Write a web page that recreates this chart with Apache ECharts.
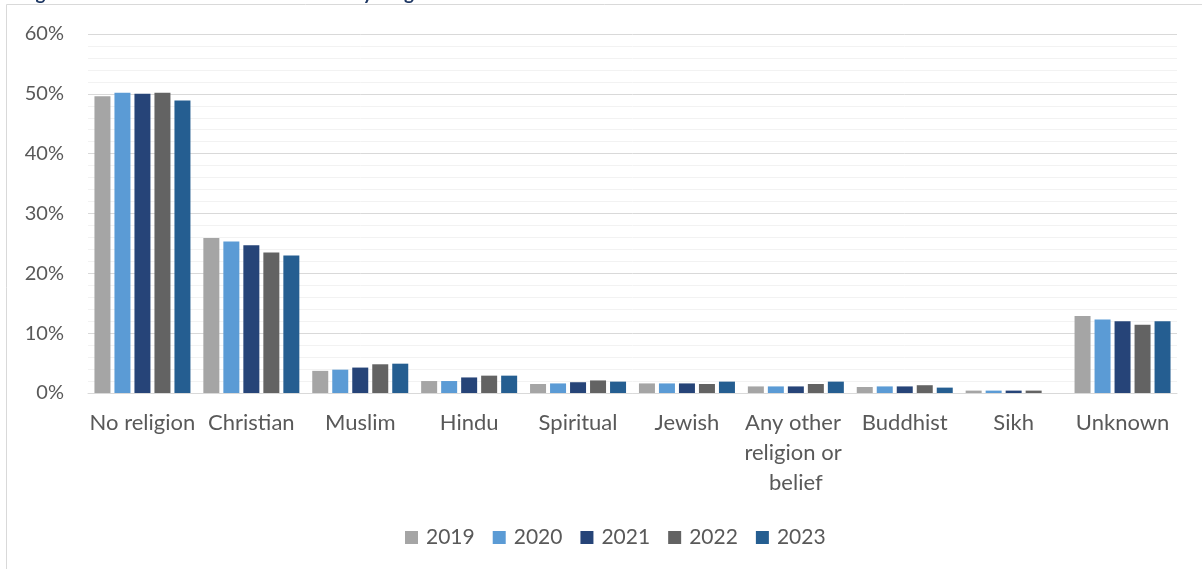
<!DOCTYPE html>
<html>
<head>
<meta charset="utf-8">
<script src="https://cdn.jsdelivr.net/npm/echarts@6/dist/echarts.min.js"></script>
<style>
html,body{margin:0;padding:0;background:#fff;}
#c{width:1202px;height:569px;}
</style>
</head>
<body>
<div id="c"></div>
<script>
const categories = ['No religion','Christian','Muslim','Hindu','Spiritual','Jewish','Any other religion or belief','Buddhist','Sikh','Unknown'];
const years = ['2019','2020','2021','2022','2023'];
const v2019 = [49.6, 25.9, 3.7, 2.0, 1.5, 1.6, 1.1, 1.0, 0.4, 12.85];
const v2020 = [50.2, 25.3, 3.9, 2.0, 1.6, 1.6, 1.1, 1.1, 0.4, 12.3];
const v2021 = [50.0, 24.7, 4.25, 2.6, 1.8, 1.6, 1.1, 1.1, 0.4, 12.0];
const v2022 = [50.2, 23.5, 4.8, 2.9, 2.1, 1.5, 1.5, 1.3, 0.4, 11.4];
const v2023 = [48.9, 23.0, 4.9, 2.9, 1.9, 1.9, 1.9, 0.9, 0, 12.0];
const yTicks = [0, 10, 20, 30, 40, 50, 60];
const colors = ['#A5A5A5', '#5B9BD5', '#264478', '#636363', '#255E91'];
const seriesValues = [v2019, v2020, v2021, v2022, v2023];

const font = 'Lato, "Open Sans", sans-serif';
const chart = echarts.init(document.getElementById('c'), null, {renderer: 'canvas'});
chart.setOption({
  animation: false,
  color: colors,
  graphic: [
    {type: 'rect', shape: {x: 6.5, y: 4.5, width: 1300, height: 700}, style: {fill: 'none', stroke: '#D9D9D9', lineWidth: 1}, silent: true, z: -1},
    {type: 'text', x: 20, y: 3, style: {text: 'Figure 5: Distribution of staff members by religion or belief 2019 to 2023', font: 'bold 19px ' + font, fill: '#1F3864', verticalAlign: 'bottom'}}
  ],
  grid: {left: 88, right: 25, top: 34, bottom: 176, containLabel: false},
  legend: {
    data: years, top: 522, left: 400, itemWidth: 13, itemHeight: 13, itemGap: 18,
    icon: 'rect',
    textStyle: {fontFamily: font, fontSize: 21, color: '#595959', padding: [0, 0, 0, 3]}
  },
  xAxis: {
    type: 'category', data: categories,
    axisLine: {lineStyle: {color: '#D9D9D9', width: 1}},
    axisTick: {show: false},
    axisLabel: {interval: 0, fontFamily: font, fontSize: 22, color: '#595959', margin: 15, lineHeight: 30, width: 108, overflow: 'break'}
  },
  yAxis: {
    type: 'value', min: yTicks[0], max: yTicks[yTicks.length - 1], interval: 10,
    axisLine: {show: false}, axisTick: {show: false},
    axisLabel: {fontFamily: font, fontSize: 20, color: '#595959', margin: 24, formatter: v => v + '%'},
    splitLine: {lineStyle: {color: '#D9D9D9', width: 1}},
    minorTick: {show: false, splitNumber: 5},
    minorSplitLine: {show: true, lineStyle: {color: '#F2F2F2', width: 1}}
  },
  series: years.map((y, i) => ({
    name: y, type: 'bar', data: seriesValues[i], barWidth: 16, barGap: '25%',
    itemStyle: {color: colors[i]}
  }))
});
</script>
</body>
</html>
